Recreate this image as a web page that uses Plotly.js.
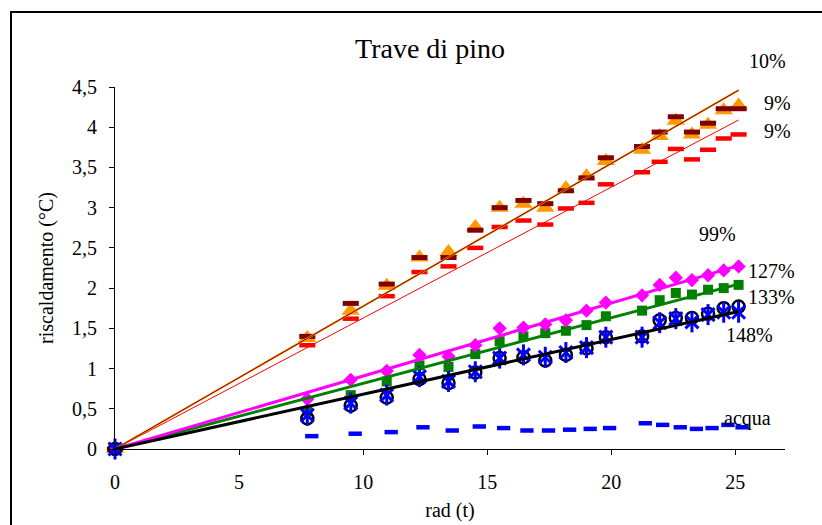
<!DOCTYPE html>
<html>
<head>
<meta charset="utf-8">
<script src="https://cdn.plot.ly/plotly-3.0.1.min.js"></script>
<style>html,body{margin:0;padding:0;background:#fff;}#chart{width:822px;height:525px;}</style>
</head>
<body>
<div id="chart"></div>
<script>
// ---- data ----
var xTime = [0, 7.75, 9.5, 10.95, 12.27, 13.44, 14.52, 15.5, 16.46, 17.34, 18.17, 19.0, 19.78, 21.24, 21.95, 22.6, 23.25, 23.9, 24.53, 25.13];
var xAcqua = [0, 7.93, 9.68, 11.13, 12.41, 13.59, 14.68, 15.66, 16.6, 17.47, 18.32, 19.15, 19.93, 21.37, 22.07, 22.78, 23.43, 24.06, 24.7, 25.27];

var serMaroon = [0, 1.40, 1.81, 2.05, 2.38, 2.38, 2.72, 3.00, 3.09, 3.05, 3.21, 3.37, 3.62, 3.76, 3.94, 4.13, 3.94, 4.05, 4.23, 4.23];
var serOrange = [0, 1.38, 1.72, 2.03, 2.38, 2.45, 2.76, 3.00, 3.05, 3.00, 3.24, 3.39, 3.58, 3.72, 3.89, 4.08, 3.91, 4.03, 4.21, 4.27];
var serRed    = [0, 1.29, 1.62, 1.90, 2.20, 2.27, 2.50, 2.76, 2.84, 2.79, 2.99, 3.06, 3.29, 3.44, 3.57, 3.73, 3.60, 3.72, 3.86, 3.91];
var serMagenta= [0, 0.62, 0.86, 0.97, 1.17, 1.15, 1.29, 1.50, 1.51, 1.55, 1.60, 1.72, 1.82, 1.91, 2.04, 2.13, 2.10, 2.16, 2.22, 2.27];
var serGreen  = [0, 0.47, 0.67, 0.84, 1.04, 1.02, 1.18, 1.34, 1.40, 1.44, 1.47, 1.54, 1.65, 1.72, 1.85, 1.94, 1.92, 1.98, 2.00, 2.04];
var serBlack  = [0, 0.38, 0.54, 0.64, 0.87, 0.82, 0.95, 1.13, 1.14, 1.10, 1.17, 1.25, 1.39, 1.40, 1.60, 1.63, 1.63, 1.68, 1.75, 1.77];
var serBlue   = [0, 0.42, 0.57, 0.67, 0.90, 0.84, 0.96, 1.13, 1.17, 1.14, 1.20, 1.26, 1.39, 1.39, 1.57, 1.62, 1.58, 1.67, 1.70, 1.70];
var serAcqua  = [0, 0.16, 0.19, 0.21, 0.27, 0.23, 0.28, 0.26, 0.23, 0.23, 0.24, 0.25, 0.26, 0.32, 0.30, 0.27, 0.25, 0.26, 0.30, 0.27];

// trendlines (through origin) – end values
var trendX = [0, 25.13];
var trendMaroon = [0, 4.46];
var trendOrange = [0, 4.46];
var trendRed = [0, 4.09];
var trendMagenta = [0, 2.28];
var trendGreen = [0, 2.05];
var trendBlack = [0, 1.71];

var seriesLabels = ["10%", "9%", "9%", "99%", "127%", "133%", "148%", "acqua"];
var xTicks = [0, 5, 10, 15, 20, 25];
var yTicks = [0, 0.5, 1, 1.5, 2, 2.5, 3, 3.5, 4, 4.5];

var FONT = "'Liberation Serif', 'Times New Roman', serif";

function markers(x, y, symbol, size, color, lw, fill) {
  return {x: x, y: y, type: "scatter", mode: "markers", cliponaxis: false, showlegend: false, hoverinfo: "x+y",
    marker: {symbol: symbol, size: size, color: fill || color, line: {color: color, width: lw}}};
}
function trend(y, color, w) {
  return {x: trendX, y: y, type: "scatter", mode: "lines", showlegend: false, hoverinfo: "skip",
    line: {color: color, width: w}};
}

var data = [
  markers(xAcqua, serAcqua, "line-ew", 9.5, "#0000FF", 4.5),
  markers(xTime, serRed, "line-ew", 11.5, "#FF0000", 4.5),
  markers(xTime, serOrange, "triangle-up", 16, "#FF9900", 0, "#FF9900"),
  markers(xTime, serMaroon, "line-ew", 11.5, "#800000", 5),
  markers(xTime, serGreen, "square", 10, "#008000", 0, "#008000"),
  markers(xTime, serMagenta, "diamond", 11, "#FF00FF", 0, "#FF00FF"),
  markers(xTime, serBlack, "circle-open", 12, "#000000", 2.5),
  markers(xTime, serBlue, "x-thin-open", 13, "#0000FF", 3),
  markers(xTime, serBlue, "line-ns-open", 15, "#0000FF", 3),
  trend(trendRed, "#FF0000", 1),
  trend(trendOrange, "#FF9900", 2),
  trend(trendMaroon, "#800000", 1),
  trend(trendGreen, "#008000", 3),
  trend(trendMagenta, "#FF00FF", 3),
  trend(trendBlack, "#000000", 3)
];

// label positions in pixel space -> paper
var W = 822, H = 525, L = 115, R = 785, T = 87, B = 449;
function px(x) { return (x - L) / (R - L); }
function py(y) { return (B - y) / (B - T); }
var labelPos = [[767, 61], [777, 103], [777, 131], [717, 234], [771, 271], [771, 297], [749, 335], [747, 418]];
var annotations = seriesLabels.map(function (t, i) {
  return {text: t, xref: "paper", yref: "paper", x: px(labelPos[i][0]), y: py(labelPos[i][1]),
    xanchor: "center", yanchor: "middle", showarrow: false, font: {family: FONT, size: 20, color: "#000"}};
});

var layout = {
  width: W, height: H,
  margin: {l: L, r: W - R, t: T, b: H - B, pad: 0},
  paper_bgcolor: "#fff", plot_bgcolor: "#fff",
  separators: ", ",
  font: {family: FONT, size: 20, color: "#000"},
  title: {text: "Trave di pino", font: {family: FONT, size: 28, color: "#000"},
    x: px(430), xref: "paper", xanchor: "center", y: 1 - 48 / H, yref: "container", yanchor: "middle"},
  xaxis: {range: [0, 27], tickvals: xTicks, ticks: "outside", ticklen: 5, tickcolor: "#000",
    showline: true, linecolor: "#000", linewidth: 1, showgrid: false, zeroline: false,
    ticklabelstandoff: 10, tickfont: {family: FONT, size: 20, color: "#000"},
    title: {text: "rad (t)", font: {family: FONT, size: 20, color: "#000"}, standoff: 10}},
  yaxis: {range: [0, 4.5], tickvals: yTicks, ticks: "outside", ticklen: 5, tickcolor: "#000",
    showline: true, linecolor: "#000", linewidth: 1, showgrid: false, zeroline: false,
    ticklabelstandoff: 8, tickfont: {family: FONT, size: 20, color: "#000"},
    title: {text: "riscaldamento (°C)", font: {family: FONT, size: 20, color: "#000"}, standoff: 13}},
  annotations: annotations,
  shapes: [{type: "rect", xref: "paper", yref: "paper", x0: px(11), x1: px(840), y0: py(560), y1: py(12),
    line: {color: "#000", width: 2}, fillcolor: "rgba(0,0,0,0)", layer: "below"}]
};

Plotly.newPlot("chart", data, layout, {displayModeBar: false, staticPlot: true});
</script>
</body>
</html>
